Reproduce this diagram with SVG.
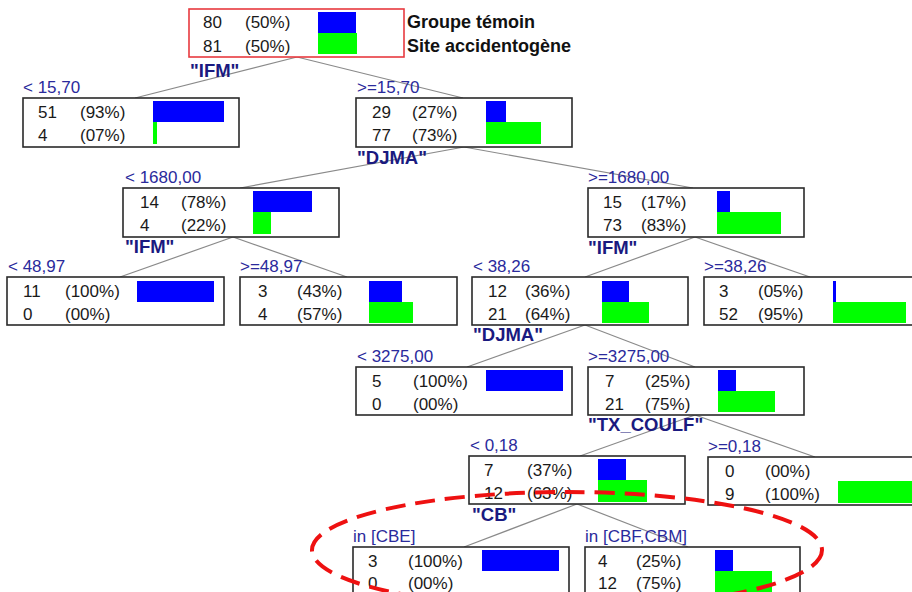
<svg xmlns="http://www.w3.org/2000/svg" width="912" height="592" viewBox="0 0 912 592">
<style>
text{font-family:"Liberation Sans",Arial,sans-serif}
.box{fill:#fff;stroke:#2a2a2a;stroke-width:1.6}
.root{fill:#fff;stroke:#e83a3f;stroke-width:1.6}
.n{font-size:17px;fill:#1a1a1a}
.cond{font-size:17px;fill:#2a2a9c}
.var{font-size:18.5px;font-weight:bold;fill:#1a1a80}
.leg{font-size:18px;font-weight:bold;fill:#111}
.b{fill:#0000ff}
.g{fill:#00ff00}
.edge{stroke:#8a8a8a;stroke-width:1.2;fill:none}
.hl{fill:none;stroke:#ee1111;stroke-width:4;stroke-dasharray:20 10}
</style>
<rect width="912" height="592" fill="#fff"/>
<g id="connectors">
<line class="edge" x1="297" y1="57" x2="135" y2="98"/>
<line class="edge" x1="297" y1="57" x2="463" y2="98"/>
<line class="edge" x1="464" y1="147" x2="240" y2="188"/>
<line class="edge" x1="464" y1="147" x2="693" y2="188"/>
<line class="edge" x1="233" y1="237" x2="120" y2="277"/>
<line class="edge" x1="233" y1="237" x2="347" y2="277"/>
<line class="edge" x1="695" y1="237" x2="585" y2="277"/>
<line class="edge" x1="695" y1="237" x2="810" y2="277"/>
<line class="edge" x1="585" y1="325" x2="467" y2="367"/>
<line class="edge" x1="585" y1="325" x2="695" y2="367"/>
<line class="edge" x1="695" y1="415" x2="580" y2="456"/>
<line class="edge" x1="695" y1="415" x2="815" y2="457"/>
<line class="edge" x1="577" y1="504" x2="464" y2="547"/>
<line class="edge" x1="577" y1="504" x2="688" y2="547"/>
</g>
<g id="root">
<rect class="root" x="189" y="9" width="215" height="48"/>
<text class="n" x="203" y="28">80</text><text class="n" x="245" y="28">(50%)</text>
<text class="n" x="203" y="52">81</text><text class="n" x="245" y="52">(50%)</text>
<rect class="b" x="318" y="12" width="38" height="21"/>
<rect class="g" x="318" y="33" width="39" height="21"/>
<text class="leg" x="407" y="28">Groupe témoin</text>
<text class="leg" x="407" y="52">Site accidentogène</text>
<text class="var" x="190" y="77">"IFM"</text>
</g>
<g id="n1">
<text class="cond" x="23" y="93">&lt; 15,70</text>
<rect class="box" x="23" y="98" width="216" height="49"/>
<text class="n" x="38" y="118">51</text><text class="n" x="80" y="118">(93%)</text>
<text class="n" x="38" y="141">4</text><text class="n" x="80" y="141">(07%)</text>
<rect class="b" x="153" y="101" width="71" height="21"/>
<rect class="g" x="153" y="122" width="4" height="22"/>
</g>
<g id="n2">
<text class="cond" x="357" y="93">&gt;=15,70</text>
<rect class="box" x="356" y="98" width="216" height="49"/>
<text class="n" x="372" y="118">29</text><text class="n" x="412" y="118">(27%)</text>
<text class="n" x="372" y="141">77</text><text class="n" x="412" y="141">(73%)</text>
<rect class="b" x="486" y="101" width="20" height="21"/>
<rect class="g" x="486" y="122" width="55" height="22"/>
<text class="var" x="357" y="164">"DJMA"</text>
</g>
<g id="n3">
<text class="cond" x="125" y="183">&lt; 1680,00</text>
<rect class="box" x="123" y="188" width="216" height="49"/>
<text class="n" x="140" y="208">14</text><text class="n" x="181" y="208">(78%)</text>
<text class="n" x="140" y="231">4</text><text class="n" x="181" y="231">(22%)</text>
<rect class="b" x="253" y="191" width="59" height="21"/>
<rect class="g" x="253" y="212" width="18" height="22"/>
<text class="var" x="125" y="253">"IFM"</text>
</g>
<g id="n4">
<text class="cond" x="588" y="183">&gt;=1680,00</text>
<rect class="box" x="588" y="188" width="216" height="49"/>
<text class="n" x="603" y="208">15</text><text class="n" x="641" y="208">(17%)</text>
<text class="n" x="603" y="231">73</text><text class="n" x="641" y="231">(83%)</text>
<rect class="b" x="717" y="191" width="13" height="21"/>
<rect class="g" x="717" y="212" width="64" height="22"/>
<text class="var" x="588" y="254">"IFM"</text>
</g>
<g id="n5">
<text class="cond" x="8" y="272">&lt; 48,97</text>
<rect class="box" x="7" y="277" width="217" height="48"/>
<text class="n" x="23" y="297">11</text><text class="n" x="65" y="297">(100%)</text>
<text class="n" x="23" y="320">0</text><text class="n" x="65" y="320">(00%)</text>
<rect class="b" x="137" y="281" width="77" height="21"/>
</g>
<g id="n6">
<text class="cond" x="240" y="272">&gt;=48,97</text>
<rect class="box" x="240" y="277" width="217" height="48"/>
<text class="n" x="258" y="297">3</text><text class="n" x="297" y="297">(43%)</text>
<text class="n" x="258" y="320">4</text><text class="n" x="297" y="320">(57%)</text>
<rect class="b" x="369" y="281" width="33" height="21"/>
<rect class="g" x="369" y="302" width="44" height="21"/>
</g>
<g id="n7">
<text class="cond" x="473" y="272">&lt; 38,26</text>
<rect class="box" x="472" y="277" width="216" height="48"/>
<text class="n" x="488" y="297">12</text><text class="n" x="525" y="297">(36%)</text>
<text class="n" x="488" y="320">21</text><text class="n" x="525" y="320">(64%)</text>
<rect class="b" x="602" y="281" width="27" height="21"/>
<rect class="g" x="602" y="302" width="47" height="21"/>
<text class="var" x="473" y="341">"DJMA"</text>
</g>
<g id="n8">
<text class="cond" x="704" y="272">&gt;=38,26</text>
<rect class="box" x="704" y="277" width="216" height="48"/>
<text class="n" x="719" y="297">3</text><text class="n" x="758" y="297">(05%)</text>
<text class="n" x="719" y="320">52</text><text class="n" x="758" y="320">(95%)</text>
<rect class="b" x="833" y="281" width="3" height="21"/>
<rect class="g" x="833" y="302" width="73" height="21"/>
</g>
<g id="n9">
<text class="cond" x="357" y="362">&lt; 3275,00</text>
<rect class="box" x="356" y="367" width="216" height="48"/>
<text class="n" x="372" y="387">5</text><text class="n" x="413" y="387">(100%)</text>
<text class="n" x="372" y="410">0</text><text class="n" x="413" y="410">(00%)</text>
<rect class="b" x="486" y="370" width="77" height="21"/>
</g>
<g id="n10">
<text class="cond" x="588" y="362">&gt;=3275,00</text>
<rect class="box" x="588" y="367" width="216" height="48"/>
<text class="n" x="605" y="387">7</text><text class="n" x="645" y="387">(25%)</text>
<text class="n" x="605" y="410">21</text><text class="n" x="645" y="410">(75%)</text>
<rect class="b" x="718" y="370" width="18" height="21"/>
<rect class="g" x="718" y="391" width="57" height="21"/>
<text class="var" x="588" y="431">"TX_COULF"</text>
</g>
<g id="n11">
<text class="cond" x="470" y="451">&lt; 0,18</text>
<rect class="box" x="469" y="456" width="216" height="48"/>
<text class="n" x="484" y="476">7</text><text class="n" x="527" y="476">(37%)</text>
<text class="n" x="484" y="499">12</text><text class="n" x="527" y="499">(63%)</text>
<rect class="b" x="598" y="459" width="28" height="21"/>
<rect class="g" x="598" y="480" width="49" height="22"/>
<text class="var" x="472" y="521">"CB"</text>
</g>
<g id="n12">
<text class="cond" x="708" y="452">&gt;=0,18</text>
<rect class="box" x="708" y="457" width="216" height="48"/>
<text class="n" x="725" y="477">0</text><text class="n" x="765" y="477">(00%)</text>
<text class="n" x="725" y="500">9</text><text class="n" x="765" y="500">(100%)</text>
<rect class="g" x="838" y="481" width="77" height="22"/>
</g>
<g id="n13">
<text class="cond" x="353" y="542">in [CBE]</text>
<rect class="box" x="353" y="547" width="216" height="48"/>
<text class="n" x="368" y="567">3</text><text class="n" x="408" y="567">(100%)</text>
<text class="n" x="368" y="589">0</text><text class="n" x="408" y="589">(00%)</text>
<rect class="b" x="482" y="550" width="77" height="21"/>
</g>
<g id="n14">
<text class="cond" x="585" y="542">in [CBF,CBM]</text>
<rect class="box" x="585" y="547" width="215" height="48"/>
<text class="n" x="598" y="567">4</text><text class="n" x="636" y="567">(25%)</text>
<text class="n" x="598" y="589">12</text><text class="n" x="636" y="589">(75%)</text>
<rect class="b" x="715" y="550" width="18" height="21"/>
<rect class="g" x="715" y="571" width="57" height="22"/>
</g>
<g id="highlight">
<ellipse class="hl" cx="567" cy="550" rx="255" ry="58"/>
</g>
</svg>
